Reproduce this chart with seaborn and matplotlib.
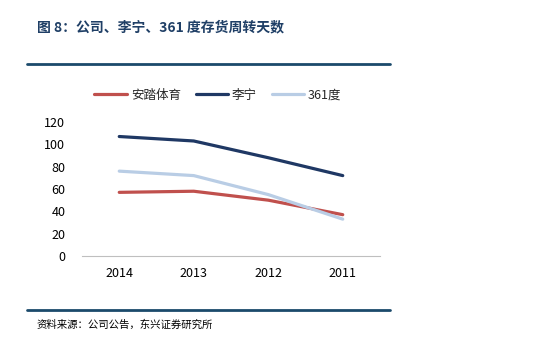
import matplotlib
matplotlib.use("Agg")
import matplotlib.pyplot as plt
import seaborn as sns
import pandas as pd
from matplotlib.lines import Line2D

years = ["2014", "2013", "2012", "2011"]
anta = [57, 58, 50, 37]
lining = [107, 103, 88, 72]
d361 = [76, 72, 55, 33]
series_names = ["安踏体育", "李宁", "361度"]
colors = ["#C0504D", "#1F3864", "#B9CDE5"]
yticks = [0, 20, 40, 60, 80, 100, 120]

sns.set_theme(style="white")
plt.rcParams['font.family'] = ['Noto Sans CJK SC', 'DejaVu Sans']

df = pd.DataFrame({
    "year": years * 3,
    "x": list(range(len(years))) * 3,
    "value": anta + lining + d361,
    "series": [series_names[0]] * 4 + [series_names[1]] * 4 + [series_names[2]] * 4,
})

fig = plt.figure(figsize=(5.43, 3.55), dpi=100)
W, H = 543, 355
ax = fig.add_axes([82 / W, 1 - 256 / H, (380 - 82) / W, (256 - 122) / H])

sns.lineplot(data=df, x="x", y="value", hue="series", palette=colors,
             hue_order=series_names, linewidth=2.3, ax=ax, legend=False, sort=False)

ax.set_xlim(-0.5, 3.5)
ax.set_ylim(0, 120)
ax.set_xticks(range(len(years)))
ax.set_xticklabels(years)
ax.set_yticks(yticks)
ax.set_xlabel("")
ax.set_ylabel("")
for s in ["top", "right", "left"]:
    ax.spines[s].set_visible(False)
ax.spines["bottom"].set_color("#BFBFBF")
ax.spines["bottom"].set_linewidth(0.8)
ax.tick_params(axis="both", length=0, labelsize=9, colors="#000000")
ax.tick_params(axis="x", pad=8)
ax.tick_params(axis="y", pad=12)
ax.grid(False)

handles = [Line2D([0], [0], color=c, lw=2.3) for c in colors]
fig.legend(handles, series_names, loc="center", bbox_to_anchor=(218 / W, 1 - 95 / H),
           ncol=3, frameon=False, fontsize=9, handlelength=2.6, handletextpad=0.3,
           columnspacing=1.2)

fig.text(37 / W, 1 - 27 / H, "图 8：公司、李宁、361 度存货周转天数", fontsize=10,
         fontweight="bold", color="#1F3F66", va="center", ha="left")
fig.add_artist(Line2D([27 / W, 390 / W], [1 - 63.5 / H, 1 - 63.5 / H], color="#1B4A6B", lw=2))
fig.add_artist(Line2D([27 / W, 390 / W], [1 - 310 / H, 1 - 310 / H], color="#1B4A6B", lw=2))
fig.text(37 / W, 1 - 325 / H, "资料来源：公司公告，东兴证券研究所", fontsize=7.5,
         style="italic", color="#000000", va="center", ha="left")

fig.savefig("out.png", dpi=100)
